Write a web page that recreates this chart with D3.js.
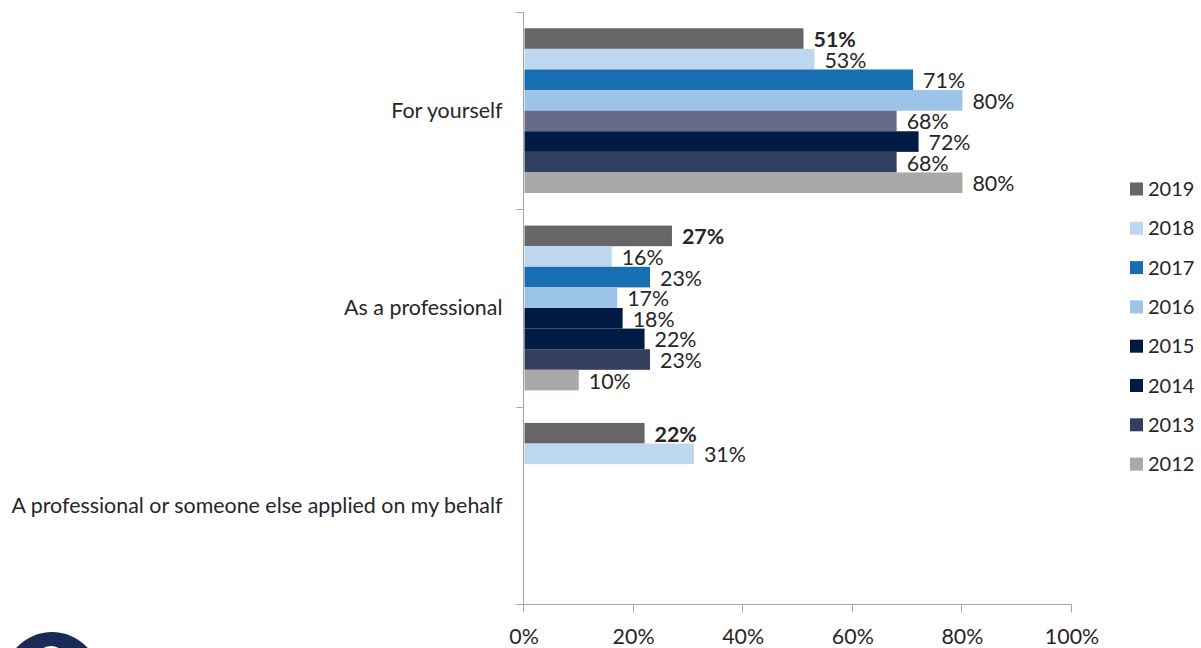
<!DOCTYPE html>
<html>
<head>
<meta charset="utf-8">
<script src="https://cdn.jsdelivr.net/npm/d3@7"></script>
<style>
  html, body { margin: 0; padding: 0; background: #fff; }
  svg { display: block; font-family: Lato, "Open Sans", sans-serif; }
</style>
</head>
<body>
<svg id="chart" width="1201" height="648"></svg>
<script>
// How the application was made, by survey year
const categories = ["For yourself", "As a professional", "A professional or someone else applied on my behalf"];
const years = ["2019", "2018", "2017", "2016", "2015", "2014", "2013", "2012"];
const forYourself   = [51, 53, 71, 80, 68, 72, 68, 80];
const asProfessional = [27, 16, 23, 17, 18, 22, 23, 10];
const onMyBehalf    = [22, 31, null, null, null, null, null, null];
const xTicks = [0, 20, 40, 60, 80, 100];

const yearColors = ["#666666", "#bdd7ee", "#176eb0", "#9dc3e6", "#001a44", "#001c45", "#333f5f", "#aba8a8"];
// the 2015 bar of the first group was shaded differently
const colorOverrides = { "For yourself|2015": "#676a88" };

const seriesByCategory = [forYourself, asProfessional, onMyBehalf];
const rows = [];
categories.forEach((c, ci) => {
  years.forEach((yr, yi) => {
    const v = seriesByCategory[ci][yi];
    if (v !== null) rows.push({ category: c, year: yr, value: v, yi });
  });
});

const svg = d3.select("#chart");
const plot = { left: 524, right: 1072, top: 12, bottom: 604 };
const fontSize = 21.4;

const x = d3.scaleLinear().domain([0, 100]).range([plot.left, plot.right]);
const y = d3.scaleBand().domain(categories).range([plot.top, plot.bottom]).paddingInner(0).paddingOuter(0);
const yInner = d3.scaleBand().domain(years).range([0, y.bandwidth()]).paddingInner(0).paddingOuter(0.79);

const textColor = "#262626";
const axisColor = "#a6a6a6";

// bars
const g = svg.append("g");
g.selectAll("rect.bar").data(rows).join("rect")
  .attr("class", "bar")
  .attr("x", x(0) + 0.5)
  .attr("y", d => y(d.category) + yInner(d.year))
  .attr("width", d => x(d.value) - x(0) - 0.5)
  .attr("height", yInner.bandwidth())
  .attr("fill", d => colorOverrides[d.category + "|" + d.year] || yearColors[d.yi]);

// value labels
g.selectAll("text.val").data(rows).join("text")
  .attr("class", "val")
  .attr("x", d => x(d.value) + 10)
  .attr("y", d => y(d.category) + yInner(d.year) + yInner.bandwidth() / 2 + 1)
  .attr("dy", "0.35em")
  .attr("font-size", fontSize)
  .attr("font-weight", d => d.year === "2019" ? 700 : 400)
  .attr("fill", textColor)
  .text(d => d.value + "%");

// y axis
const yAxis = svg.append("g").attr("transform", `translate(${plot.left - 0.5},0)`);
yAxis.append("line").attr("x1", 0).attr("x2", 0).attr("y1", plot.top).attr("y2", plot.bottom).attr("stroke", axisColor);
const yTickPos = categories.map(c => y(c)).concat([plot.bottom]);
yAxis.selectAll("line.tick").data(yTickPos).join("line")
  .attr("class", "tick")
  .attr("x1", -7).attr("x2", 0)
  .attr("y1", d => Math.round(d) + 0.5).attr("y2", d => Math.round(d) + 0.5)
  .attr("stroke", axisColor);
yAxis.selectAll("text").data(categories).join("text")
  .attr("x", -21)
  .attr("y", d => y(d) + y.bandwidth() / 2)
  .attr("dy", "0.35em")
  .attr("text-anchor", "end")
  .attr("font-size", fontSize)
  .attr("fill", textColor)
  .text(d => d);

// x axis
const xAxis = svg.append("g").attr("transform", `translate(0,${plot.bottom + 0.5})`);
xAxis.append("line").attr("x1", plot.left - 7).attr("x2", plot.right).attr("y1", 0).attr("y2", 0).attr("stroke", axisColor);
xAxis.selectAll("line.tick").data(xTicks).join("line")
  .attr("class", "tick")
  .attr("x1", d => Math.round(x(d)) - 0.5).attr("x2", d => Math.round(x(d)) - 0.5)
  .attr("y1", 0).attr("y2", 8)
  .attr("stroke", axisColor);
xAxis.selectAll("text").data(xTicks).join("text")
  .attr("x", d => x(d))
  .attr("y", 32)
  .attr("dy", "0.35em")
  .attr("text-anchor", "middle")
  .attr("font-size", fontSize)
  .attr("fill", textColor)
  .text(d => d + "%");

// legend
const legend = svg.append("g").attr("transform", "translate(1130,189)");
const legendItems = legend.selectAll("g").data(years).join("g")
  .attr("transform", (d, i) => `translate(0,${i * 39.3})`);
legendItems.append("rect")
  .attr("x", 0).attr("y", -6.5).attr("width", 13).attr("height", 13)
  .attr("fill", (d, i) => yearColors[i]);
legendItems.append("text")
  .attr("x", 18).attr("y", 0).attr("dy", "0.35em")
  .attr("font-size", 20).attr("fill", textColor)
  .text(d => d);

// emblem in the lower-left corner
const logo = svg.append("g");
logo.append("circle").attr("cx", 52).attr("cy", 680).attr("r", 48).attr("fill", "#1b2b58");
logo.append("circle").attr("cx", 51).attr("cy", 661).attr("r", 13).attr("fill", "none")
  .attr("stroke", "#ffffff").attr("stroke-width", 4);
</script>
</body>
</html>
